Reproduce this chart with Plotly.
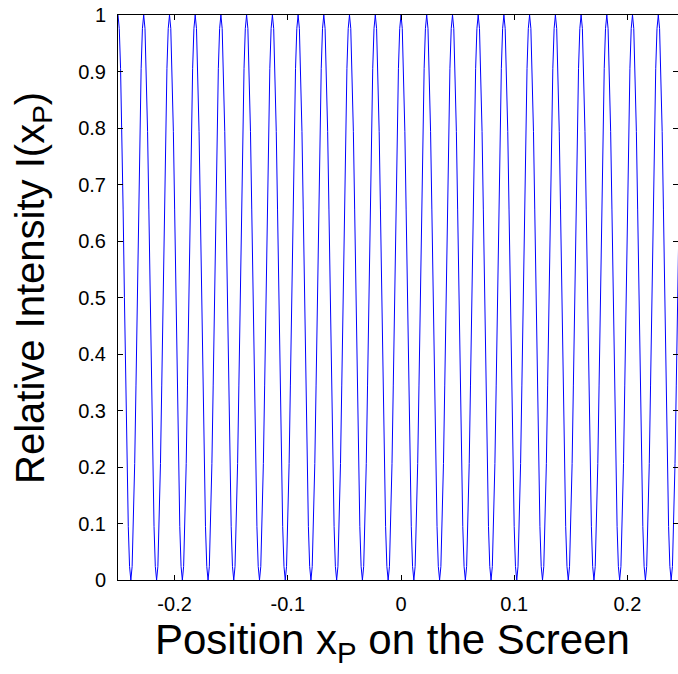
import plotly.graph_objects as go

# Fringe maxima positions (x in screen units)
peak_x = [-0.2500, -0.2273, -0.2045, -0.1818, -0.1591, -0.1364, -0.1136,
          -0.0909, -0.0682, -0.0455, -0.0227, 0.0000, 0.0227, 0.0455,
          0.0682, 0.0909, 0.1136, 0.1364, 0.1591, 0.1818, 0.2045, 0.2273,
          0.2500]
# Shape of one fringe: fraction of the way from a
# maximum to the next minimum, and the relative intensity there
profile_frac = [0.0, 0.1, 0.2, 0.3, 0.4, 0.5, 0.6, 0.7, 0.8, 0.9, 1.0]
profile_int = [1.0, 0.976, 0.905, 0.794, 0.655, 0.5, 0.345, 0.206, 0.095, 0.024, 0.0]

x_ticks = [-0.2, -0.1, 0, 0.1, 0.2]
x_tick_text = ["-0.2", "-0.1", "0", "0.1", "0.2"]
y_ticks = [0, 0.1, 0.2, 0.3, 0.4, 0.5, 0.6, 0.7, 0.8, 0.9, 1]
y_tick_text = ["0", "0.1", "0.2", "0.3", "0.4", "0.5", "0.6", "0.7", "0.8", "0.9", "1"]

# assemble the curve from the fringe list and profile
xs, ys = [], []
for i in range(len(peak_x) - 1):
    p0, p1 = peak_x[i], peak_x[i + 1]
    half = (p1 - p0) / 2.0
    for f, v in zip(profile_frac, profile_int):
        if i > 0 and f == 0.0:
            continue
        xs.append(p0 + f * half)
        ys.append(v)
    for f, v in zip(profile_frac[::-1][1:], profile_int[::-1][1:]):
        xs.append(p1 - f * half)
        ys.append(v)

fig = go.Figure()
fig.add_trace(go.Scatter(x=xs, y=ys, mode="lines",
                         line=dict(color="#0000ff", width=1),
                         hoverinfo="skip", showlegend=False))

font = "Liberation Sans, Arial, sans-serif"
PW, PH = 560, 565  # plot area size in px
fig.update_layout(
    width=678, height=674,
    margin=dict(l=118, r=0, t=15, b=94, autoexpand=False),
    paper_bgcolor="white", plot_bgcolor="white",
    font=dict(family=font, color="black"),
    xaxis=dict(range=[-0.25, 0.2447], tickmode="array", tickvals=x_ticks,
               ticktext=x_tick_text, ticks="inside", ticklen=5,
               tickcolor="black", showline=True, linecolor="black",
               linewidth=1, mirror="ticks", showgrid=False, zeroline=False,
               tickfont=dict(size=20, family=font), ticklabelstandoff=6),
    yaxis=dict(range=[0, 1], tickmode="array", tickvals=y_ticks,
               ticktext=y_tick_text, ticks="inside", ticklen=5,
               tickcolor="black", showline=True, linecolor="black",
               linewidth=1, mirror="ticks", showgrid=False, zeroline=False,
               tickfont=dict(size=20, family=font), ticklabelstandoff=7),
    annotations=[
        dict(text="Position x<sub>P</sub> on the Screen", xref="paper",
             yref="paper", x=(392 - 118) / PW, y=-(642 - 580) / PH,
             xanchor="center", yanchor="middle", showarrow=False,
             font=dict(size=42, family=font, color="black")),
        dict(text="Relative Intensity I(x<sub>P</sub>)", xref="paper",
             yref="paper", x=-(118 - 33) / PW, y=(580 - 288) / PH,
             xanchor="center", yanchor="middle", textangle=-90,
             showarrow=False,
             font=dict(size=40, family=font, color="black")),
    ],
)

fig.write_html("out.html",
               config={"displayModeBar": False},
               post_script="document.body.style.margin='0';")
